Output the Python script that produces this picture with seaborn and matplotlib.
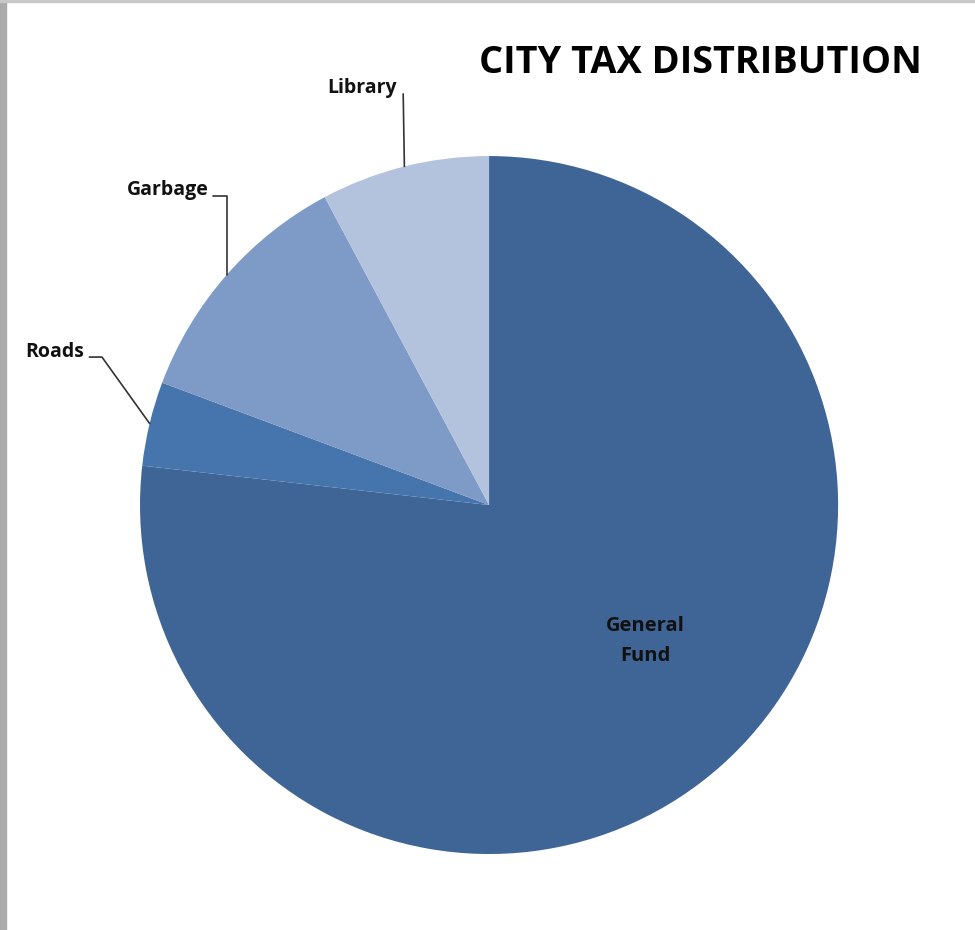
### City tax distribution pie chart

import numpy as np
import matplotlib
matplotlib.use("Agg")
import matplotlib.pyplot as plt
import seaborn as sns

# data (percent of taxes)
categories = ["General Fund", "Roads", "Garbage", "Library"]
shares = [76.8, 3.9, 11.5, 7.8]
colors = ["#3E6595", "#4674AC", "#7E9AC7", "#B3C2DD"]

sns.set_theme(style="white")
plt.rcParams["font.family"] = ["Open Sans", "DejaVu Sans"]

fig = plt.figure(figsize=(9.75, 9.3), dpi=100)
fig.patch.set_facecolor("white")

# grey frame strip on the left like the screenshot
fig.add_artist(plt.Rectangle((0, 0), 0.006, 1, transform=fig.transFigure,
                             color="#ABABAB", zorder=0))
fig.add_artist(plt.Rectangle((0, 0.998), 1, 0.002, transform=fig.transFigure,
                             color="#C8C8C8", zorder=0))

ax = fig.add_axes([0.1436, 0.0817, 0.716, 0.7505])
wedges, _ = ax.pie(shares, colors=colors, startangle=90, counterclock=False,
                   radius=1, wedgeprops=dict(linewidth=0))
ax.set_xlim(-1, 1)
ax.set_ylim(-1, 1)
ax.set_aspect("auto")
ax.axis("off")

# inside label for the big slice
ax.text(0.449, -0.39, "General\nFund", ha="center", va="center",
        fontsize=14.5, fontweight="bold", color="#111111", linespacing=1.7)

# outside labels with leader lines, anchored at slice mid angle
label_pos = {"Roads": (-1.245, 0.438), "Garbage": (-0.92, 0.902), "Library": (-0.364, 1.195)}
elbow = {"Roads": (-1.109, 0.424), "Garbage": (-0.754, 0.886), "Library": (-0.246, 1.178)}
for w, name in zip(wedges, categories):
    if name == "General Fund":
        continue
    mid = np.deg2rad((w.theta1 + w.theta2) / 2)
    px, py = np.cos(mid), np.sin(mid)
    tx, ty = label_pos[name]
    ex, ey = elbow[name]
    if name == "Library":
        xs, ys = [ex, px], [ey, py]
    elif name == "Garbage":
        xs = [ex - 0.036, px, px]
        ys = [ey, ey, py]
    else:
        xs, ys = [ex - 0.036, ex, px], [ey, ey, py]
    ax.plot(xs, ys, color="#333333", linewidth=1.2, clip_on=False)
    ax.text(tx, ty, name, ha="center", va="center", fontsize=14,
            fontweight="bold", color="#111111", clip_on=False)

fig.text(0.718, 0.932, "CITY TAX DISTRIBUTION", ha="center", va="center",
         fontsize=27.3, fontweight="bold", color="#000000")

fig.savefig("out.png", dpi=100)
